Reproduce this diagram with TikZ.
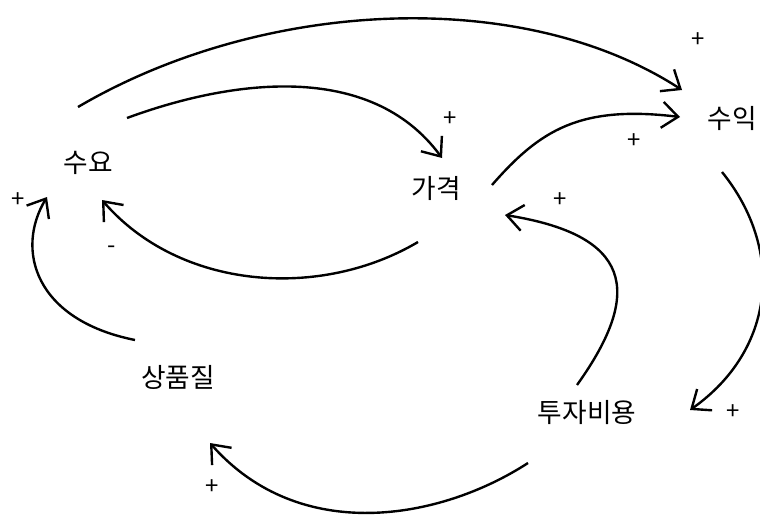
\documentclass[tikz,border=0pt]{standalone}
\usepackage{fontspec}
\setmainfont{Noto Sans CJK KR}
\usepackage{tikz}
\usetikzlibrary{arrows.meta,calc}
\tikzset{
  var/.style={inner sep=0pt,font=\fontsize{19}{22}\selectfont},
  sign/.style={inner sep=0pt,font=\fontsize{17}{19}\selectfont},
  link/.style={-{Straight Barb[length=4mm,width=6.5mm]},line width=1.7pt,draw=black}
}
\begin{document}
\begin{tikzpicture}[x=0.025cm,y=-0.025cm]
\useasboundingbox (0,0) rectangle (760,518);
% variables
\node[var] (demand) at (88,163) {수요};
\node[var] (price) at (436,188) {가격};
\node[var] (revenue) at (732,118) {수익};
\node[var] (quality) at (178,377) {상품질};
\node[var] (invest) at (587,413) {투자비용};
% causal links
\draw[link] ([shift={(-10,-56)}]demand.center) .. controls (260,0) and (520,-15) .. ([shift={(-50,-28)}]revenue.center);
\draw[link] ([shift={(39,-45)}]demand.center) .. controls (230,80) and (370,60) .. ([shift={(6,-30)}]price.center);
\draw[link] ([shift={(56,-3)}]price.center) .. controls (540,130) and (580,105) .. ([shift={(-52,-1)}]revenue.center);
\draw[link] ([shift={(-10,54)}]revenue.center) .. controls (785,250) and (775,350) .. ([shift={(103,-3)}]invest.center);
\draw[link] ([shift={(-10,-28)}]invest.center) .. controls (645,290) and (630,235) .. ([shift={(69,27)}]price.center);
\draw[link] ([shift={(-18,54)}]price.center) .. controls (320,300) and (180,290) .. ([shift={(14,37)}]demand.center);
\draw[link] ([shift={(-43,-37)}]quality.center) .. controls (35,320) and (15,250) .. ([shift={(-41,34)}]demand.center);
\draw[link] ([shift={(-59,50)}]invest.center) .. controls (440,520) and (300,545) .. ([shift={(32,66)}]quality.center);
% polarities
\node[sign] (s1) at (698,40) {+};
\node[sign] (s2) at (450,119) {+};
\node[sign] (s3) at (634,141) {+};
\node[sign] (s4) at (560,200) {+};
\node[sign] (s5) at (112,250) {-};
\node[sign] (s6) at (18,200) {+};
\node[sign] (s7) at (733,412) {+};
\node[sign] (s8) at (212,487) {+};
\end{tikzpicture}
\end{document}
